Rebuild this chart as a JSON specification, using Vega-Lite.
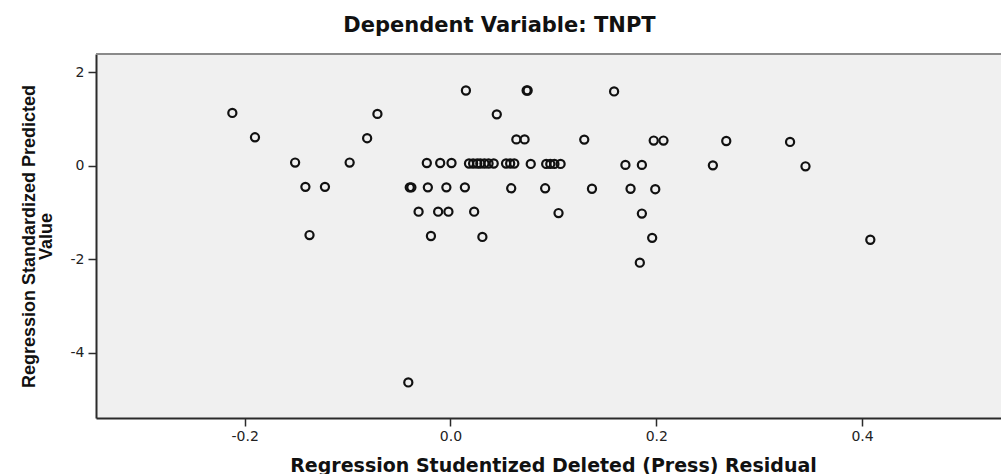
{
  "$schema": "https://vega.github.io/schema/vega-lite/v6.json",
  "autosize": {"type": "none"},
  "padding": {"left": 96, "top": 54, "right": 0, "bottom": 56},
  "width": 905,
  "height": 364,
  "background": "white",
  "title": {
    "text": "Dependent Variable: TNPT",
    "font": "DejaVu Sans",
    "fontSize": 21,
    "fontWeight": "bold",
    "color": "#111111",
    "anchor": "middle",
    "frame": "group",
    "dx": -49,
    "dy": 23,
    "baseline": "alphabetic",
    "offset": 23
  },
  "config": {
    "view": {"fill": "#F0F0F0", "stroke": null}
  },
  "data": {
    "values": [
      {"resid": 0.015, "pred": 1.61},
      {"resid": 0.074, "pred": 1.61},
      {"resid": 0.075, "pred": 1.61},
      {"resid": 0.159, "pred": 1.59},
      {"resid": -0.212, "pred": 1.13},
      {"resid": -0.071, "pred": 1.11},
      {"resid": 0.045, "pred": 1.10},
      {"resid": -0.19, "pred": 0.61},
      {"resid": -0.081, "pred": 0.59},
      {"resid": 0.064, "pred": 0.565},
      {"resid": 0.072, "pred": 0.565},
      {"resid": 0.130, "pred": 0.56},
      {"resid": 0.1975, "pred": 0.54},
      {"resid": 0.207, "pred": 0.54},
      {"resid": 0.268, "pred": 0.53},
      {"resid": 0.330, "pred": 0.51},
      {"resid": -0.151, "pred": 0.07},
      {"resid": -0.098, "pred": 0.07},
      {"resid": -0.023, "pred": 0.06},
      {"resid": -0.010, "pred": 0.06},
      {"resid": 0.001, "pred": 0.06},
      {"resid": 0.018, "pred": 0.05},
      {"resid": 0.022, "pred": 0.05},
      {"resid": 0.026, "pred": 0.05},
      {"resid": 0.029, "pred": 0.05},
      {"resid": 0.033, "pred": 0.05},
      {"resid": 0.037, "pred": 0.05},
      {"resid": 0.042, "pred": 0.05},
      {"resid": 0.054, "pred": 0.05},
      {"resid": 0.058, "pred": 0.05},
      {"resid": 0.062, "pred": 0.05},
      {"resid": 0.078, "pred": 0.04},
      {"resid": 0.093, "pred": 0.04},
      {"resid": 0.097, "pred": 0.04},
      {"resid": 0.101, "pred": 0.04},
      {"resid": 0.107, "pred": 0.04},
      {"resid": 0.170, "pred": 0.02},
      {"resid": 0.186, "pred": 0.02},
      {"resid": 0.255, "pred": 0.01},
      {"resid": 0.345, "pred": -0.01},
      {"resid": -0.141, "pred": -0.45},
      {"resid": -0.122, "pred": -0.45},
      {"resid": -0.0396, "pred": -0.46},
      {"resid": -0.038, "pred": -0.46},
      {"resid": -0.022, "pred": -0.46},
      {"resid": -0.004, "pred": -0.46},
      {"resid": 0.014, "pred": -0.46},
      {"resid": 0.059, "pred": -0.48},
      {"resid": 0.092, "pred": -0.48},
      {"resid": 0.1375, "pred": -0.49},
      {"resid": 0.175, "pred": -0.49},
      {"resid": 0.199, "pred": -0.50},
      {"resid": -0.031, "pred": -0.98},
      {"resid": -0.012, "pred": -0.98},
      {"resid": -0.002, "pred": -0.98},
      {"resid": 0.023, "pred": -0.98},
      {"resid": 0.105, "pred": -1.01},
      {"resid": 0.186, "pred": -1.02},
      {"resid": -0.137, "pred": -1.48},
      {"resid": -0.019, "pred": -1.50},
      {"resid": 0.031, "pred": -1.52},
      {"resid": 0.196, "pred": -1.54},
      {"resid": 0.408, "pred": -1.58},
      {"resid": 0.184, "pred": -2.07},
      {"resid": -0.041, "pred": -4.63}
    ]
  },
  "layer": [
    {
      "mark": {"type": "point", "shape": "circle", "filled": false, "stroke": "#111111", "strokeWidth": 2.2, "size": 66, "opacity": 1},
      "encoding": {
        "x": {
          "field": "resid",
          "type": "quantitative",
          "scale": {"domain": [-0.3445, 0.535], "nice": false, "zero": false},
          "axis": {
            "values": [-0.2, 0, 0.2, 0.4],
            "labelExpr": "(datum.value < 0 ? '-' : '') + format(abs(datum.value), '.1f')",
            "grid": false,
            "domainColor": "#2b2b2b",
            "domainWidth": 2,
            "tickColor": "#2b2b2b",
            "tickWidth": 1.5,
            "tickSize": 8,
            "labelFont": "DejaVu Sans",
            "labelFontSize": 14,
            "labelColor": "#222222",
            "labelPadding": 3,
            "title": "Regression Studentized Deleted (Press) Residual",
            "titleFont": "DejaVu Sans",
            "titleFontSize": 19,
            "titleFontWeight": "bold",
            "titleColor": "#111111",
            "titleBaseline": "alphabetic",
            "titleX": 457,
            "titleY": 53
          }
        },
        "y": {
          "field": "pred",
          "type": "quantitative",
          "scale": {"domain": [-5.39, 2.39], "nice": false, "zero": false},
          "axis": {
            "values": [-4, -2, 0, 2],
            "labelExpr": "(datum.value < 0 ? '-' : '') + format(abs(datum.value), 'd')",
            "grid": false,
            "domainColor": "#2b2b2b",
            "domainWidth": 2,
            "tickColor": "#2b2b2b",
            "tickWidth": 1.5,
            "tickSize": 8,
            "labelFont": "DejaVu Sans",
            "labelFontSize": 14,
            "labelColor": "#222222",
            "labelPadding": 4,
            "title": ["Regression Standardized Predicted", "Value"],
            "titleFont": "Liberation Sans",
            "titleFontSize": 18,
            "titleFontWeight": "bold",
            "titleColor": "#111111",
            "titleLineHeight": 17,
            "titleAngle": -90,
            "titleAlign": "center",
            "titleBaseline": "top",
            "titleX": -76,
            "titleY": 182
          }
        }
      }
    },
    {
      "mark": {"type": "rule", "color": "#8a8a8a", "strokeWidth": 2},
      "encoding": {"y": {"datum": 2.39, "type": "quantitative"}}
    }
  ]
}
